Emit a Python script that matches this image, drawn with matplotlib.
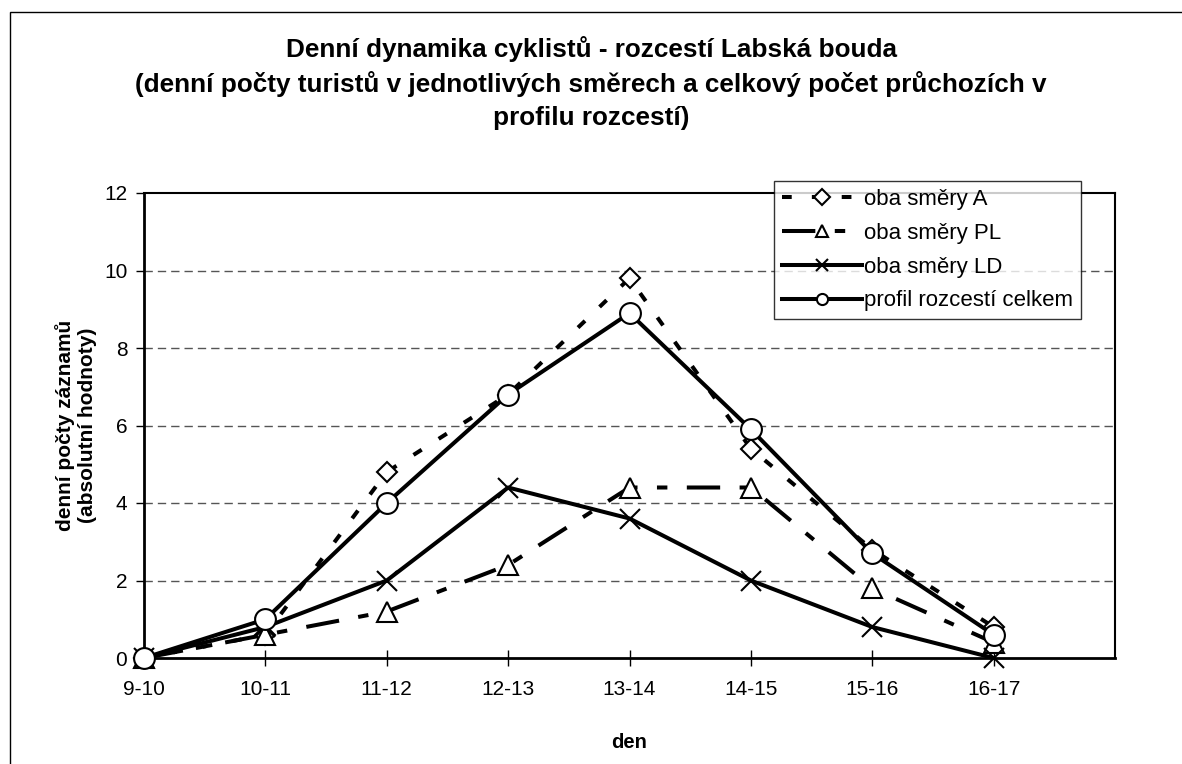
import matplotlib.pyplot as plt
import matplotlib.patches as patches

plt.rcParams['font.family'] = ['Liberation Sans', 'DejaVu Sans']
plt.rcParams['lines.scale_dashes'] = False

days = ['9-10', '10-11', '11-12', '12-13', '13-14', '14-15', '15-16', '16-17']
oba_A = [0, 0.6, 4.8, 6.8, 9.8, 5.4, 2.8, 0.8]
oba_PL = [0, 0.6, 1.2, 2.4, 4.4, 4.4, 1.8, 0.4]
oba_LD = [0, 0.8, 2.0, 4.4, 3.6, 2.0, 0.8, 0]
celkem = [0, 1.0, 4.0, 6.8, 8.9, 5.9, 2.7, 0.6]

fig = plt.figure(figsize=(11.82, 7.64), dpi=100)
ax = fig.add_axes([144/1182, 106/764, 971/1182, 465/764])

# outer chart border (cut off at right/bottom like the source)
fig.patches.append(patches.Rectangle((10/1182, -0.1), 1.2, 1.1 - 12/764,
                                     transform=fig.transFigure, fill=False,
                                     edgecolor='black', lw=1))

x = list(range(len(days)))
lw = 2.9
ax.plot(x, oba_A, color='black', lw=lw, linestyle=(0, (7, 14.5)), clip_on=False,
        marker='D', ms=10.5, mfc='white', mec='black', mew=1.5, label='oba směry A', zorder=3)
ax.plot(x, oba_PL, color='black', lw=lw, linestyle=(0, (24, 14, 7.5, 14)), clip_on=False,
        marker='^', ms=14, mfc='white', mec='black', mew=1.5, label='oba směry PL', zorder=3)
ax.plot(x, oba_LD, color='black', lw=lw, linestyle='-', clip_on=False,
        marker='x', ms=14, mec='black', mew=1.5, label='oba směry LD', zorder=3)
ax.plot(x, celkem, color='black', lw=lw, linestyle='-', clip_on=False,
        marker='o', ms=15, mfc='white', mec='black', mew=1.5, label='profil rozcestí celkem', zorder=4)

ax.set_xlim(0, 8)
ax.set_ylim(0, 12)
ax.set_xticks(x)
ax.set_xticklabels(days)
ax.set_yticks(range(0, 13, 2))
ax.tick_params(axis='x', direction='inout', length=12, width=1, labelsize=15, pad=10)
ax.tick_params(axis='y', direction='out', length=6, width=1, labelsize=15, pad=6)
for g in range(2, 12, 2):
    ax.axhline(g, color='#555555', lw=1, linestyle=(0, (6, 3.6)), zorder=1)
for s in ax.spines.values():
    s.set_linewidth(1.5)
ax.spines['left'].set_linewidth(2)
ax.spines['bottom'].set_linewidth(2)

ax.set_xlabel('den', fontsize=14.5, fontweight='bold', labelpad=24)
ax.set_ylabel('denní počty záznamů\n(absolutní hodnoty)', fontsize=15, fontweight='bold', labelpad=5)

fig.text(0.5, 1 - 36/764,
         'Denní dynamika cyklistů - rozcestí Labská bouda\n'
         '(denní počty turistů v jednotlivých směrech a celkový počet průchozích v\n'
         'profilu rozcestí)',
         ha='center', va='top', fontsize=18.8, fontweight='bold', linespacing=1.45)

leg = ax.legend(loc='upper right', bbox_to_anchor=(1081/1182, 1 - 181/764),
                bbox_transform=fig.transFigure, fontsize=16, frameon=True,
                fancybox=False, handlelength=3.6, handletextpad=0.1,
                borderpad=0.35, labelspacing=0.58, borderaxespad=0)
leg.get_frame().set_edgecolor('black')
leg.get_frame().set_linewidth(1)
leg.set_zorder(10)
for h in leg.legend_handles:
    h.set_markersize(8)

fig.savefig('out.png', dpi=100)
